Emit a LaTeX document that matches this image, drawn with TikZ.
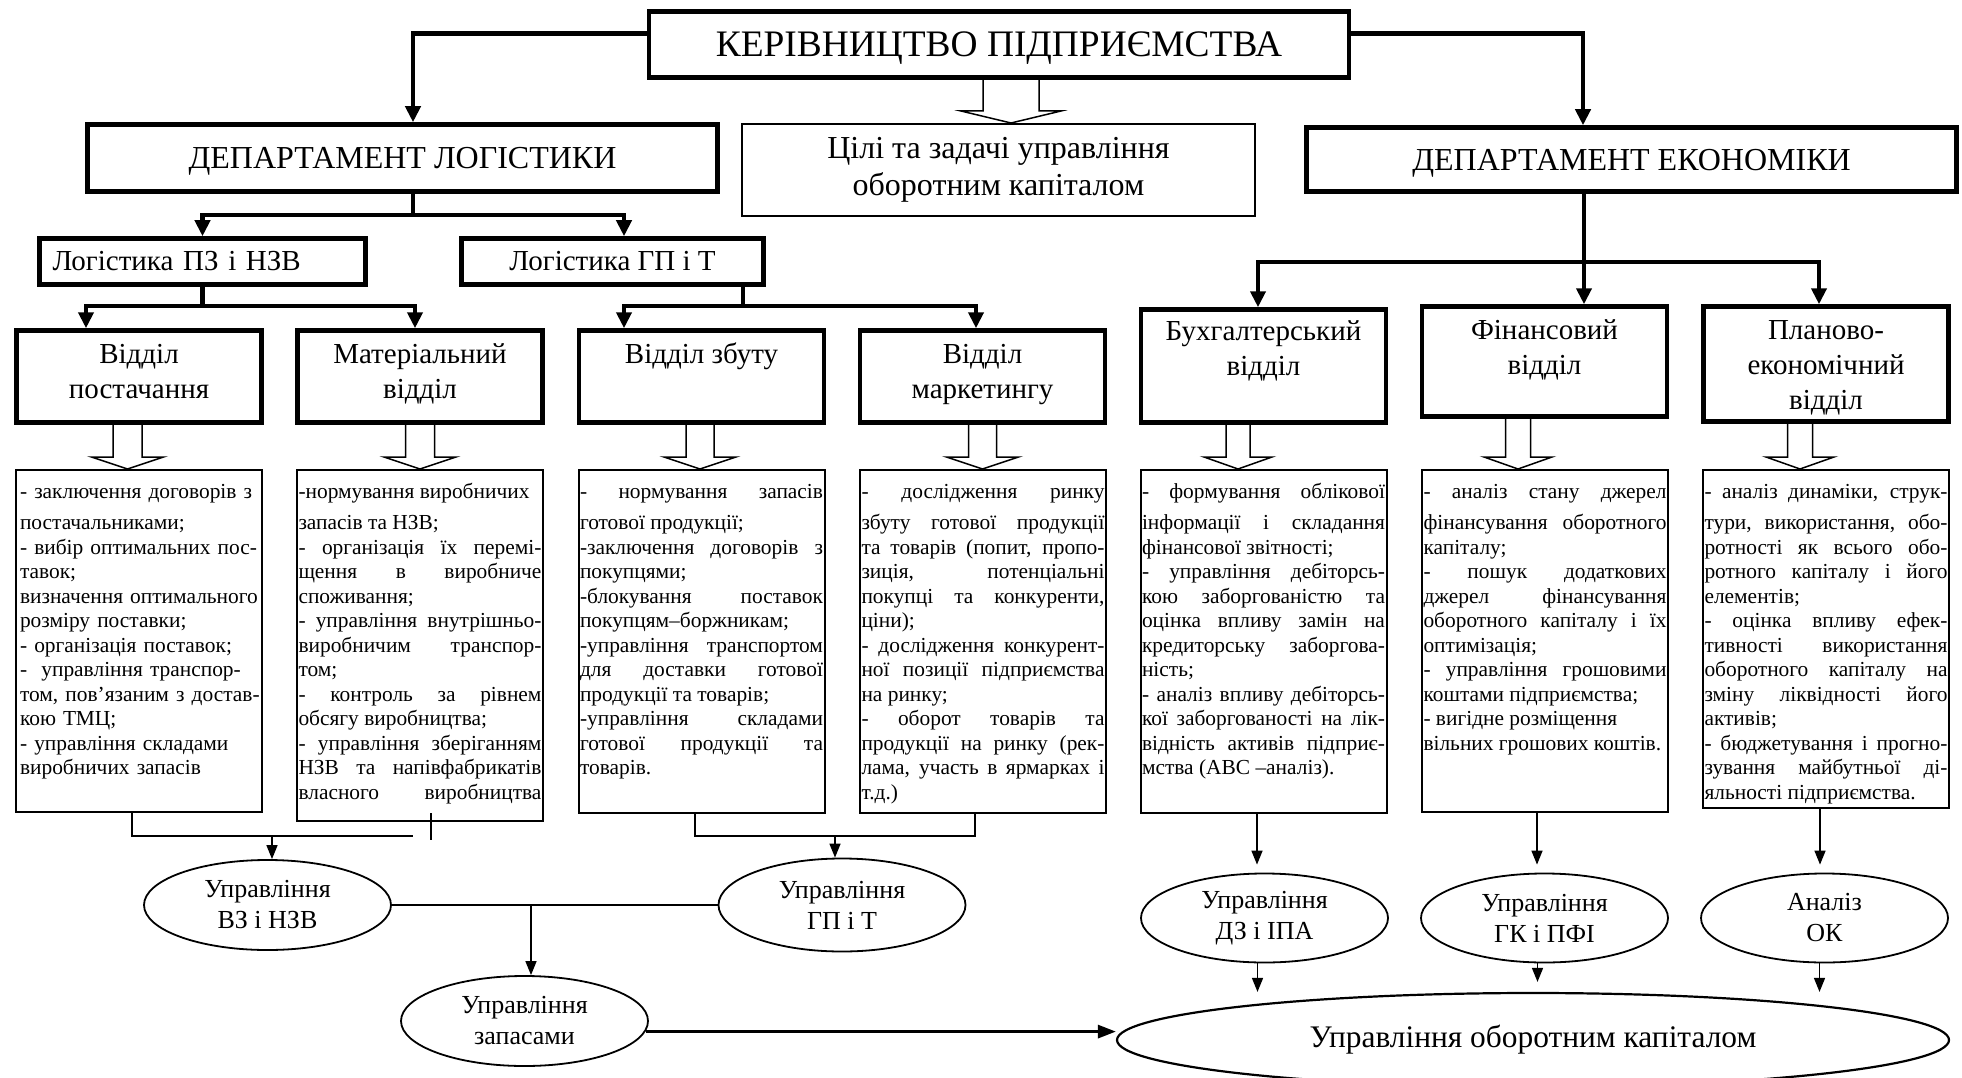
\documentclass[tikz,border=0pt]{standalone}
\usepackage{fontspec}
\setmainfont{Liberation Serif}
\usetikzlibrary{arrows.meta,positioning,calc,shapes.geometric}
\setlength{\parindent}{0pt}

\tikzset{
  bossbox/.style={draw, line width=4.5pt, inner sep=0pt, text depth=0pt, font=\fontsize{37.4}{42}\selectfont},
  deptbox/.style={draw, line width=4.5pt, inner sep=0pt, text depth=0pt, font=\fontsize{32}{37}\selectfont},
  goalbox/.style={draw, line width=2pt, inner sep=0pt, align=center, font=\fontsize{32}{37}\selectfont},
  logbox/.style={draw, line width=4.5pt, inner sep=0pt, minimum height=46pt, font=\fontsize{29}{35}\selectfont},
  unitbox/.style={draw, line width=4.5pt, inner sep=0pt, minimum width=245pt},
  unittext/.style={inner sep=0pt, align=center, font=\fontsize{29}{35}\selectfont},
  listbox/.style={draw, line width=2pt, inner sep=0pt, minimum width=246pt},
  listtext/.style={inner sep=0pt, text width=243pt, align=justify, font=\fontsize{21.4}{24.5}\selectfont},
  taskell/.style={draw, ellipse, line width=1.8pt, inner sep=0pt, minimum width=247pt, minimum height=90pt, align=center, font=\fontsize{26}{31}\selectfont},
  bold line/.style={line width=4.5pt},
  bold arrow/.style={line width=4.5pt, -{Triangle[length=16pt,width=15pt]}},
  thin arrow/.style={line width=1.5pt, -{Triangle[length=14pt,width=11pt]}},
  join line/.style={line width=2.5pt},
  hollow/.style={line width=1.5pt, line join=miter},
}

\newcommand{\hollowarrow}[5]{%
  \draw[hollow] let \p1=([xshift=#1]#2.south), \p2=(#3.north) in
    (\x1-#4,\y1) -- (\x1-#4,\y2+12) -- (\x1-#5,\y2+12) -- (\x1,\y2)
    -- (\x1+#5,\y2+12) -- (\x1+#4,\y2+12) -- (\x1+#4,\y1);}

\begin{document}
\begin{tikzpicture}[x=1pt, y=-1pt]
\useasboundingbox (0,0) rectangle (1962,1078);

\node[bossbox, minimum width=700pt, minimum height=66pt] (boss) at (999,44.5) {КЕРІВНИЦТВО ПІДПРИЄМСТВА};
\node[deptbox, minimum width=630pt, minimum height=67pt] (dlog) at (402.5,158) {ДЕПАРТАМЕНТ ЛОГІСТИКИ};
\node[goalbox, minimum width=513pt, minimum height=92pt] (goal) at (998.5,170) {Цілі та задачі управління\\оборотним капіталом};
\node[deptbox, minimum width=650pt, minimum height=64pt] (decon) at (1631.5,159.5) {ДЕПАРТАМЕНТ ЕКОНОМІКИ};

\node[logbox, minimum width=326pt, text width=300pt, align=left] (lpz) at (202.5,261.5) {Логістика ПЗ і НЗВ};
\node[logbox, minimum width=302pt] (lgp) at (612.5,261.5) {Логістика ГП і Т};

\node[unitbox, minimum height=92pt] (post) at (139,376.5) {};
\node[unitbox, minimum height=92pt] (mat) at (420,376.5) {};
\node[unitbox, minimum height=92pt] (zbut) at (701.5,376.5) {};
\node[unitbox, minimum height=92pt] (mark) at (982.5,376.5) {};
\node[unitbox, minimum height=113pt] (buh) at (1263.5,366) {};
\node[unitbox, minimum height=110pt] (fin) at (1544.5,361.5) {};
\node[unitbox, minimum height=115pt] (plan) at (1826,364) {};

\node[unittext, below=10.5pt of post.north] (post-t) {\strut Відділ\\постачання};
\node[unittext, below=10.5pt of mat.north] (mat-t) {\strut Матеріальний\\відділ};
\node[unittext, below=10.5pt of zbut.north] (zbut-t) {\strut Відділ збуту};
\node[unittext, below=10.5pt of mark.north] (mark-t) {\strut Відділ\\маркетингу};
\node[unittext, below=9pt of buh.north] (buh-t) {\strut Бухгалтерський\\відділ};
\node[unittext, below=10.5pt of fin.north] (fin-t) {\strut Фінансовий\\відділ};
\node[unittext, below=10.5pt of plan.north] (plan-t) {\strut Планово-\\економічний\\відділ};

\node[listbox, minimum height=342pt] (lpost) at (139,641) {};
\node[listbox, minimum height=351pt] (lmat) at (420,645.5) {};
\node[listbox, minimum height=343pt] (lzbut) at (701.5,641.5) {};
\node[listbox, minimum height=343pt] (lmark) at (983,641.5) {};
\node[listbox, minimum height=343pt] (lbuh) at (1263.5,641.5) {};
\node[listbox, minimum height=342pt] (lfin) at (1545,641) {};
\node[listbox, minimum height=338pt] (lplan) at (1826,639) {};

\node[listtext, text width=240pt, align=left, xshift=1pt, below=12.1pt of lpost.north] (lpost-t) {\strut- заключення договорів з\\[6.8pt]
постачальниками;\\
- вибір оптимальних пос-\\
тавок;\\
визначення оптимального\\
розміру поставки;\\
- організація поставок;\\
-~ управління транспор-\\
том, пов’язаним з достав-\\
кою ТМЦ;\\
- управління складами\\
виробничих запасів};
\node[listtext, below=12.1pt of lmat.north] (lmat-t) {\strut-нормування виробничих\\[6.8pt]
запасів та НЗВ;\\
- організація їх перемі-\linebreak
щення в виробниче\linebreak
споживання;\\
- управління внутрішньо-\linebreak
виробничим транспор-\linebreak
том;\\
- контроль за рівнем\linebreak
обсягу виробництва;\\
- управління зберіганням\linebreak
НЗВ та напівфабрикатів\linebreak
власного виробництва\linebreak};
\node[listtext, below=12.1pt of lzbut.north] (lzbut-t) {\strut- нормування запасів\vspace{6.8pt}\linebreak
готової продукції;\\
-заключення договорів з\linebreak
покупцями;\\
-блокування поставок\linebreak
покупцям–боржникам;\\
-управління транспортом\linebreak
для доставки готової\linebreak
продукції та товарів;\\
-управління складами\linebreak
готової продукції та\linebreak
товарів.};
\node[listtext, below=12.1pt of lmark.north] (lmark-t) {\strut- дослідження ринку\vspace{6.8pt}\linebreak
збуту готової продукції\linebreak
та товарів (попит, пропо-\linebreak
зиція, потенціальні\linebreak
покупці та конкуренти,\linebreak
ціни);\\
- дослідження конкурент-\linebreak
ної позиції підприємства\linebreak
на ринку;\\
- оборот товарів та\linebreak
продукції на ринку (рек-\linebreak
лама, участь в ярмарках і\linebreak
т.д.)};
\node[listtext, below=12.1pt of lbuh.north] (lbuh-t) {\strut- формування облікової\vspace{6.8pt}\linebreak
інформації і складання\linebreak
фінансової звітності;\\
- управління дебіторсь-\linebreak
кою заборгованістю та\linebreak
оцінка впливу замін на\linebreak
кредиторську заборгова-\linebreak
ність;\\
- аналіз впливу дебіторсь-\linebreak
кої заборгованості на лік-\linebreak
відність активів підприє-\linebreak
мства (АВС –аналіз).};
\node[listtext, below=12.1pt of lfin.north] (lfin-t) {\strut- аналіз стану джерел\vspace{6.8pt}\linebreak
фінансування оборотного\linebreak
капіталу;\\
- пошук додаткових\linebreak
джерел фінансування\linebreak
оборотного капіталу і їх\linebreak
оптимізація;\\
- управління грошовими\linebreak
коштами підприємства;\\
- вигідне розміщення\\
вільних грошових коштів.};
\node[listtext, below=12.1pt of lplan.north] (lplan-t) {\strut- аналіз динаміки, струк-\vspace{6.8pt}\linebreak
тури, використання, обо-\linebreak
ротності як всього обо-\linebreak
ротного капіталу і його\linebreak
елементів;\\
- оцінка впливу ефек-\linebreak
тивності використання\linebreak
оборотного капіталу на\linebreak
зміну ліквідності його\linebreak
активів;\\
- бюджетування і прогно-\linebreak
зування майбутньої ді-\linebreak
яльності підприємства.};

\node[taskell] (evz) at (267.5,905) {Управління\\ВЗ і НЗВ};
\node[taskell, minimum height=93pt] (egp) at (842,905) {Управління\\ГП і Т};
\node[taskell] (ezap) at (524.5,1021) {Управління\\запасами};
\node[taskell, minimum height=89pt] (edz) at (1264.5,918) {Управління\\ДЗ і ІПА};
\node[taskell, minimum height=89pt] (egk) at (1544.5,918) {Управління\\ГК і ПФІ};
\node[taskell, minimum height=89pt] (eok) at (1824.5,918) {Аналіз\\ОК};
\node[taskell, line width=2.2pt, minimum width=832pt, minimum height=94pt, font=\fontsize{31.4}{36}\selectfont] (eokap) at (1533,1040) {Управління оборотним капіталом};

\draw[bold arrow] ([yshift=11pt]boss.west) -| ([xshift=10.5pt]dlog.north);
\draw[bold arrow] ([yshift=11pt]boss.east) -| ([xshift=-48.5pt]decon.north);
\hollowarrow{12pt}{boss}{goal}{28}{50}

\coordinate (jlog) at (413,215);
\draw[bold line] (dlog.south -| jlog) -- (jlog);
\draw[bold arrow] (jlog) -| (lpz.north);
\draw[bold arrow] (jlog) -| ([xshift=11.5pt]lgp.north);

\coordinate (jpz) at (202.5,306);
\draw[bold line] (lpz.south) -- (jpz);
\draw[bold arrow] (jpz) -| ([xshift=-53pt]post.north);
\draw[bold arrow] (jpz) -| ([xshift=-5pt]mat.north);
\coordinate (jgpt) at (743,306);
\draw[bold line] (lgp.south -| jgpt) -- (jgpt);
\draw[bold arrow] (jgpt) -| ([xshift=-77.5pt]zbut.north);
\draw[bold arrow] (jgpt) -| ([xshift=-6.5pt]mark.north);

\coordinate (jeco) at (1584,262);
\draw[bold arrow] (decon.south -| jeco) -- (fin.north -| jeco);
\draw[bold arrow] (jeco) -| ([xshift=-5.5pt]buh.north);
\draw[bold arrow] (jeco) -| ([xshift=-7pt]plan.north);

\hollowarrow{-11.5pt}{post}{lpost}{14.5}{36}
\hollowarrow{0pt}{mat}{lmat}{14.5}{36}
\hollowarrow{-1.5pt}{zbut}{lzbut}{14}{36}
\hollowarrow{0pt}{mark}{lmark}{14}{36}
\hollowarrow{-25.5pt}{buh}{lbuh}{12}{34}
\hollowarrow{-26.5pt}{fin}{lfin}{12.5}{34}
\hollowarrow{-26pt}{plan}{lplan}{12.5}{34}

\coordinate (jvz) at (272,836);
\coordinate (jvzend) at (413,836);
\coordinate (matend) at (431,840);
\coordinate (jgp) at (835,836);
\draw[join line] ([xshift=-7pt]lpost.south) |- (jvzend);
\draw[join line] ([xshift=11pt,yshift=9pt]lmat.south) -- (matend);
\draw[thin arrow] (jvz) -- (jvz |- evz.north);
\draw[join line] ([xshift=-6.5pt]lzbut.south) |- (jgp) -| ([xshift=-8pt]lmark.south);
\draw[thin arrow] (jgp) -- (jgp |- egp.north);

\coordinate (jzap) at (531,905);
\draw[join line] (evz.east) -- (egp.west);
\draw[thin arrow] (jzap) -- (jzap |- ezap.north);
\draw[line width=3pt, -{Triangle[length=18pt,width=13pt]}] (ezap.-5) -- (ezap.-5 -| eokap.west);

\draw[thin arrow, shorten >=8pt] ([xshift=-6.5pt]lbuh.south) -- ([xshift=-6.5pt]lbuh.south |- edz.north);
\draw[thin arrow, shorten >=8pt] ([xshift=-8pt]lfin.south) -- ([xshift=-8pt]lfin.south |- egk.north);
\draw[thin arrow, shorten >=8pt] ([xshift=-6pt]lplan.south) -- ([xshift=-6pt]lplan.south |- eok.north);
\draw[thin arrow] ([xshift=-7pt]edz.south) -- ([xshift=-7pt]edz.south |- eokap.north);
\draw[thin arrow, shorten >=10pt] ([xshift=-7pt]egk.south) -- ([xshift=-7pt]egk.south |- eokap.north);
\draw[thin arrow] ([xshift=-5pt]eok.south) -- ([xshift=-5pt]eok.south |- eokap.north);
\end{tikzpicture}
\end{document}
